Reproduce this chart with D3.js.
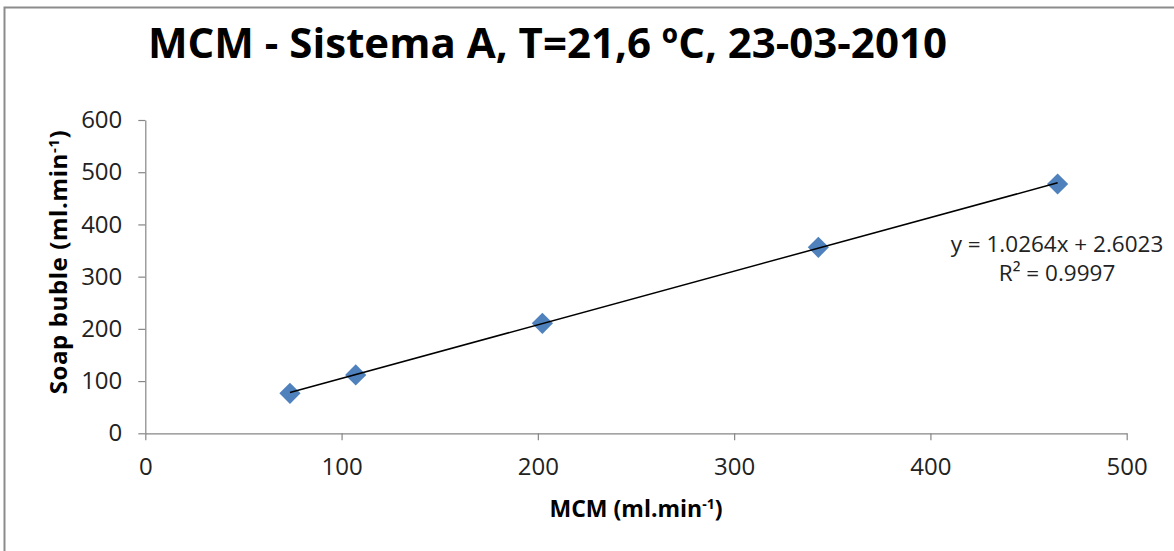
<!DOCTYPE html>
<html>
<head>
<meta charset="utf-8">
<script src="https://cdn.jsdelivr.net/npm/d3@7"></script>
<style>
  html, body { margin: 0; padding: 0; background: #fff; }
  svg { display: block; }
  text { font-family: "Open Sans", "Liberation Sans", sans-serif; }
</style>
</head>
<body>
<svg id="chart" width="1174" height="551"></svg>
<script>
// ---- data ----
const titleText = "MCM - Sistema A, T=21,6 ºC, 23-03-2010";
const mcmValues = [73.7, 107.2, 202.3, 342.9, 464.8];      // x: MCM (ml.min-1)
const soapValues = [76.6, 111.7, 210.7, 356.2, 477.4];     // y: Soap buble (ml.min-1)
const xTicks = [0, 100, 200, 300, 400, 500];
const yTicks = [0, 100, 200, 300, 400, 500, 600];
const trendSlope = 1.0264;
const trendIntercept = 2.6023;
const eqLines = ["y = 1.0264x + 2.6023", "R² = 0.9997"];

const W = 1174, H = 551;
const plot = { left: 145.3, right: 1126.7, top: 120, bottom: 433.3 };

const svg = d3.select("#chart");

// chart frame (top and left edges visible)
svg.append("path")
  .attr("d", `M4.5,${H} L4.5,7.5 L${W},7.5`)
  .attr("fill", "none").attr("stroke", "#8c8c8c").attr("stroke-width", 2);

const x = d3.scaleLinear().domain([0, 500]).range([plot.left, plot.right]);
const y = d3.scaleLinear().domain([0, 600]).range([plot.bottom, plot.top]);

// axes
const xAxis = d3.axisBottom(x).tickValues(xTicks).tickSize(7).tickSizeOuter(0).tickPadding(18);
const yAxis = d3.axisLeft(y).tickValues(yTicks).tickSize(7).tickSizeOuter(0).tickPadding(16);

const gx = svg.append("g").attr("transform", `translate(0,${plot.bottom})`).call(xAxis);
const gy = svg.append("g").attr("transform", `translate(${plot.left},0)`).call(yAxis);

[gx, gy].forEach(g => {
  g.select(".domain").attr("stroke", "#868686").attr("stroke-width", 1.2);
  g.selectAll(".tick line").attr("stroke", "#868686").attr("stroke-width", 1.2);
  g.selectAll(".tick text").attr("fill", "#222").style("font-size", "24px")
    .style("font-family", '"Open Sans", sans-serif');
});

// markers
svg.append("g").selectAll("path")
  .data(mcmValues.map((v, i) => [v, soapValues[i]]))
  .join("path")
  .attr("d", d3.symbol().type(d3.symbolSquare).size(225))
  .attr("transform", d => `translate(${x(d[0])},${y(d[1])}) rotate(45)`)
  .attr("fill", "#4F81BD");

// linear trendline across the data range
const xMin = d3.min(mcmValues), xMax = d3.max(mcmValues);
svg.append("line")
  .attr("x1", x(xMin)).attr("y1", y(trendSlope * xMin + trendIntercept))
  .attr("x2", x(xMax)).attr("y2", y(trendSlope * xMax + trendIntercept))
  .attr("stroke", "#000").attr("stroke-width", 1.5);

// title
svg.append("text")
  .attr("x", 148).attr("y", 58)
  .style("font-size", "42px").style("font-weight", "bold")
  .attr("fill", "#000")
  .text(titleText);

// equation
svg.append("g").selectAll("text")
  .data(eqLines)
  .join("text")
  .attr("x", 1057).attr("y", (d, i) => 252 + i * 29)
  .attr("text-anchor", "middle")
  .style("font-size", "22.5px").attr("fill", "#222")
  .text(d => d);

// x-axis title
const xt = svg.append("text")
  .attr("x", (plot.left + plot.right) / 2).attr("y", 517)
  .attr("text-anchor", "middle")
  .style("font-size", "23px").style("font-weight", "bold").attr("fill", "#000");
xt.append("tspan").text("MCM (ml.min");
xt.append("tspan").attr("dy", -8).style("font-size", "14px").text("-1");
xt.append("tspan").attr("dy", 8).text(")");

// y-axis title
const yt = svg.append("text")
  .attr("transform", `translate(67,262) rotate(-90)`)
  .attr("text-anchor", "middle")
  .style("font-size", "24px").style("font-weight", "bold")
  .style("letter-spacing", "0.6px").attr("fill", "#000");
yt.append("tspan").text("Soap buble (ml.min");
yt.append("tspan").attr("dy", -8).style("font-size", "15px").text("-1");
yt.append("tspan").attr("dy", 8).text(")");
</script>
</body>
</html>
